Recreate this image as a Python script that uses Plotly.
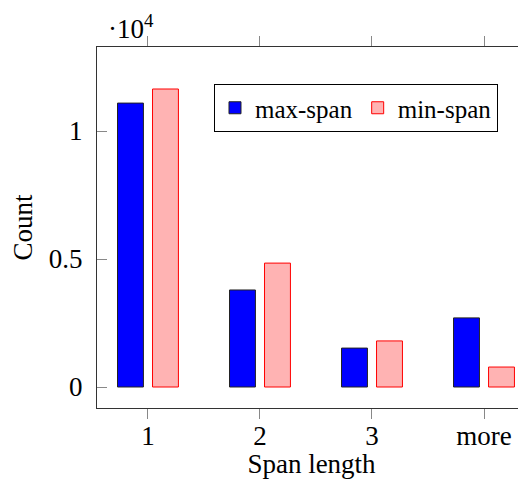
import plotly.graph_objects as go

categories = ["1", "2", "3", "more"]
max_span = [11090, 3790, 1520, 2700]
min_span = [11640, 4840, 1800, 780]
y_tickvals = [0, 5000, 10000]
y_ticktext = ["0", "0.5", "1"]

FONT = "Liberation Serif"
FS = 27

fig = go.Figure()
fig.add_trace(go.Bar(
    x=categories, y=max_span, name="max-span",
    marker=dict(color="#0000FF", line=dict(color="#222222", width=1)),
))
fig.add_trace(go.Bar(
    x=categories, y=min_span, name="min-span",
    marker=dict(color="#FFB3B3", line=dict(color="#FF0000", width=1)),
))

fig.update_layout(
    width=518, height=471,
    margin=dict(l=89, r=0, t=39, b=71),
    paper_bgcolor="white", plot_bgcolor="white",
    barmode="group", bargap=0.375, bargroupgap=0.26,
    font=dict(family=FONT, size=FS, color="black"),
    legend=dict(
        orientation="h", x=0.2727, y=0.8975, xanchor="left", yanchor="top",
        bordercolor="black", borderwidth=1, bgcolor="white",
        font=dict(family=FONT, size=25), itemwidth=30,
        tracegroupgap=0,
    ),
    showlegend=True,
)
fig.update_xaxes(
    type="category", range=[-0.455, 3.375],
    showline=True, linecolor="#333333", linewidth=1, mirror="ticks",
    ticks="outside", ticklen=10, tickcolor="#888888",
    ticklabelstandoff=-6,
    tickfont=dict(family=FONT, size=FS),
    title=dict(text="Span length", font=dict(family=FONT, size=FS), standoff=0),
    showgrid=False,
)
fig.update_yaxes(
    range=[-820, 13281],
    tickvals=y_tickvals, ticktext=y_ticktext,
    showline=True, linecolor="#333333", linewidth=1, mirror=False,
    ticks="inside", ticklen=10, tickcolor="#888888",
    ticklabelstandoff=8,
    tickfont=dict(family=FONT, size=FS),
    title=dict(text="Count", font=dict(family=FONT, size=FS), standoff=10),
    showgrid=False, zeroline=False,
)
fig.add_annotation(
    text="·10<sup>4</sup>", xref="paper", yref="paper", x=0.02, y=1.0,
    xanchor="left", yanchor="bottom", showarrow=False, yshift=1,
    font=dict(family=FONT, size=FS),
)
fig.write_html("out.html")
